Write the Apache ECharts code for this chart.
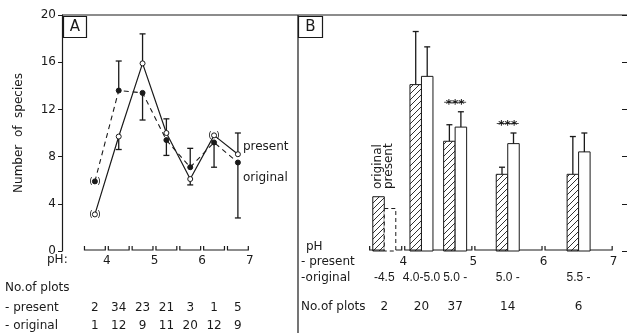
<!DOCTYPE html>
<html><head><meta charset="utf-8">
<script src="https://cdn.jsdelivr.net/npm/echarts@6/dist/echarts.min.js"></script>
<style>html,body{margin:0;padding:0;background:#fff}#c{width:627px;height:333px}</style>
</head><body><div id="c"></div>
<script>
// ---------- Panel A data ----------
const phA = [3.75, 4.25, 4.75, 5.25, 5.75, 6.25, 6.75];
const presentA = [3.1, 9.7, 15.9, 10.0, 6.1, 9.8, 8.2];
const presentErrA = [null, 8.6, 18.4, 11.2, 5.6, null, 10.0];
const originalA = [5.9, 13.6, 13.4, 9.4, 7.1, 9.2, 7.5];
const originalErrA = [null, 16.1, 11.1, 8.1, 8.7, 7.1, 2.8];
const presentUncertainA = [true, false, false, false, false, true, false];
const originalUncertainA = [true, false, false, false, false, false, false];
const plotsPresentA = [2, 34, 23, 21, 3, 1, 5];
const plotsOriginalA = [1, 12, 9, 11, 20, 12, 9];
const rangesA = [[3.5,4],[4,4.5],[4.5,5],[5,5.5],[5.5,6],[6,6.5],[6.5,7]];
const phTicks = [4, 5, 6, 7];
// ---------- Panel B data ----------
const phB = [3.73, 4.26, 4.74, 5.49, 6.50];
const originalB = [4.6, 14.1, 9.3, 6.5, 6.5];
const originalErrB = [null, 18.6, 10.7, 7.1, 9.7];
const presentB = [3.6, 14.8, 10.5, 9.1, 8.4];
const presentErrB = [null, 17.3, 11.8, 10.0, 10.0];
const sigB = ['', '', '***', '***', ''];
const rangeLabelsB = ['-4.5', '4.0-5.0', '5.0 -', '5.0 -', '5.5 -'];
const plotsB = [2, 20, 37, 14, 6];
const rangesB = [[3.5,4],[4,5],[5,6],[6,7]];

const FONT = 'DejaVu Sans';
const NARROW = 'Liberation Sans';
const INK = '#1a1a1a';

function hatchCanvas(){
  const c = document.createElement('canvas'); c.width = 6; c.height = 6;
  const g = c.getContext('2d'); g.strokeStyle = INK; g.lineWidth = 0.9;
  g.beginPath(); g.moveTo(0,6); g.lineTo(6,0);
  g.moveTo(-1,1); g.lineTo(1,-1); g.moveTo(5,7); g.lineTo(7,5); g.stroke();
  return c;
}
const HATCH = hatchCanvas();

const nz = v => (v === null ? NaN : v);

function errRender(params, api){
  const x = api.value(0), y = api.value(1), e = api.value(2);
  if (isNaN(e)) return;
  const p0 = api.coord([x, y]), p1 = api.coord([x, e]);
  return {type:'group', children:[
    {type:'line', shape:{x1:p0[0], y1:p0[1], x2:p1[0], y2:p1[1]}, style:{stroke:INK, lineWidth:1.3}},
    {type:'line', shape:{x1:p1[0]-3, y1:p1[1], x2:p1[0]+3, y2:p1[1]}, style:{stroke:INK, lineWidth:1.3}}
  ]};
}
function bracketRender(params, api){
  const a = api.coord([api.value(0), 0]), b = api.coord([api.value(1), 0]);
  const y = a[1] - 1;
  return {type:'polyline', shape:{points:[[a[0]+1.5, y-4],[a[0]+1.5, y],[b[0]-1.5, y],[b[0]-1.5, y-4]]},
    style:{stroke:INK, lineWidth:1.2, fill:null}};
}
function barRender(params, api){
  const x = api.value(0);
  const o = api.value(1), p = api.value(2), oe = api.value(3), pe = api.value(4);
  const i = params.dataIndex;
  const w = 11.5;
  const b = api.coord([x, 0]);
  const cx = b[0];
  const pO = api.coord([x, o]), pP = api.coord([x, p]);
  const ch = [];
  ch.push({type:'rect', shape:{x:cx-w, y:pO[1], width:w, height:b[1]-pO[1]},
    style:{fill:{image:HATCH, repeat:'repeat'}, stroke:INK, lineWidth:1}});
  ch.push({type:'rect', shape:{x:cx, y:pP[1], width:w, height:b[1]-pP[1]},
    style:{fill:'#fff', stroke:INK, lineWidth:1, lineDash: i === 0 ? [4,3] : null}});
  let top = Math.min(pO[1], pP[1]);
  [[cx-w/2, o, oe],[cx+w/2, p, pe]].forEach(([ex, v, e]) => {
    if (isNaN(e)) return;
    const q0 = api.coord([x, v])[1], q1 = api.coord([x, e])[1];
    top = Math.min(top, q1);
    ch.push({type:'line', shape:{x1:ex, y1:q0, x2:ex, y2:q1}, style:{stroke:INK, lineWidth:1.3}});
    ch.push({type:'line', shape:{x1:ex-3, y1:q1, x2:ex+3, y2:q1}, style:{stroke:INK, lineWidth:1.3}});
  });
  if (sigB[i]) {
    ch.push({type:'text', x:cx, y:top-7, style:{text:sigB[i], fill:INK, font:'bold 12px '+FONT, align:'center', verticalAlign:'middle'}});
    ch.push({type:'line', shape:{x1:cx-11, y1:top-9.5, x2:cx+11, y2:top-9.5}, style:{stroke:INK, lineWidth:0.8}});
  }
  return {type:'group', children:ch};
}

const paren = {show:true, formatter:'(\u2002)', position:'inside', color:INK, fontSize:9, fontFamily:FONT};

const option = {
  animation:false,
  backgroundColor:'#fff',
  grid:[
    {left:62, top:15, width:235, height:236},
    {left:298, top:15, width:329, height:236}
  ],
  xAxis:[
    {gridIndex:0, type:'value', min:3.06, max:7.99, splitLine:{show:false}, axisLine:{show:false}, axisTick:{show:false},
     axisLabel:{customValues:phTicks, color:INK, fontSize:12, fontFamily:FONT, margin:4}},
    {gridIndex:1, type:'value', min:2.5, max:7.19, splitLine:{show:false}, axisLine:{show:false}, axisTick:{show:false},
     axisLabel:{customValues:phTicks, color:INK, fontSize:12, fontFamily:FONT, margin:5}}
  ],
  yAxis:[
    {gridIndex:0, type:'value', min:0, max:20, interval:4, splitLine:{show:false},
     axisLine:{show:true, lineStyle:{color:INK, width:1.2}}, axisTick:{show:true, length:4, lineStyle:{color:INK}},
     axisLabel:{color:INK, fontSize:12, fontFamily:FONT, margin:6},
     name:'Number  of  species', nameLocation:'middle', nameGap:37, nameRotate:90,
     nameTextStyle:{color:INK, fontSize:12, fontFamily:FONT}},
    {gridIndex:1, type:'value', position:'right', min:0, max:20, interval:4, splitLine:{show:false},
     axisLine:{show:false}, axisTick:{show:true, inside:true, length:5, lineStyle:{color:INK}}, axisLabel:{show:false}}
  ],
  series:[
    {type:'custom', xAxisIndex:0, yAxisIndex:0, renderItem:bracketRender, data:rangesA, z:1, silent:true},
    {type:'custom', xAxisIndex:1, yAxisIndex:1, renderItem:bracketRender, data:rangesB, z:1, silent:true},
    {type:'custom', xAxisIndex:0, yAxisIndex:0, renderItem:errRender, z:2,
     data:phA.map((x,i)=>[x, presentA[i], nz(presentErrA[i])])},
    {type:'custom', xAxisIndex:0, yAxisIndex:0, renderItem:errRender, z:2,
     data:phA.map((x,i)=>[x, originalA[i], nz(originalErrA[i])])},
    {name:'original', type:'line', xAxisIndex:0, yAxisIndex:0, z:4, symbol:'circle', symbolSize:5,
     lineStyle:{color:INK, width:1.1, type:[5,4]}, itemStyle:{color:INK, borderColor:INK, borderWidth:1},
     data:phA.map((x,i)=> originalUncertainA[i] ? {value:[x, originalA[i]], label:paren} : [x, originalA[i]])},
    {name:'present', type:'line', xAxisIndex:0, yAxisIndex:0, z:5, symbol:'circle', symbolSize:5,
     lineStyle:{color:INK, width:1.2}, itemStyle:{color:'#fff', borderColor:INK, borderWidth:1},
     data:phA.map((x,i)=> presentUncertainA[i] ? {value:[x, presentA[i]], label:paren} : [x, presentA[i]])},
    {type:'custom', xAxisIndex:1, yAxisIndex:1, renderItem:barRender, z:3,
     encode:{x:0, y:[1,2,3,4]},
     data:phB.map((x,i)=>[x, originalB[i], presentB[i], nz(originalErrB[i]), nz(presentErrB[i])])}
  ]
};
const chart = echarts.init(document.getElementById('c'));
chart.setOption(option);

// ---------- annotations / tables ----------
const txt = (x, y, s, align, size, fam) => ({type:'text', x:x, y:y, silent:true,
  style:{text:s, fill:INK, font:(size||12)+'px '+(fam||FONT), align:align||'left', verticalAlign:'middle'}});
const pxA = v => chart.convertToPixel({xAxisIndex:0}, v);
const pxB = v => chart.convertToPixel({xAxisIndex:1}, v);
const yA = v => chart.convertToPixel({yAxisIndex:0}, v);
const g = [];
g.push({type:'line', shape:{x1:62, y1:15, x2:627, y2:15}, style:{stroke:INK, lineWidth:1.2}, silent:true});
g.push({type:'line', shape:{x1:298, y1:15, x2:298, y2:333}, style:{stroke:INK, lineWidth:1.2}, silent:true});
g.push({type:'rect', shape:{x:63.5, y:16.5, width:23, height:21}, style:{fill:'#fff', stroke:INK, lineWidth:1.2}, silent:true});
g.push(txt(75, 27.5, 'A', 'center', 15));
g.push({type:'rect', shape:{x:298.5, y:16.5, width:24, height:21}, style:{fill:'#fff', stroke:INK, lineWidth:1.2}, silent:true});
g.push(txt(310.5, 27.5, 'B', 'center', 15));
g.push(txt(pxA(phA[6]) + 5, yA(presentA[6]) - 7, 'present', 'left'));
g.push(txt(pxA(phA[6]) + 5, yA(originalA[6]) + 15, 'original', 'left'));
// panel A table
g.push(txt(47, 260, 'pH:', 'left'));
g.push(txt(5, 288, 'No.of plots', 'left'));
g.push(txt(5, 308, '- present', 'left'));
g.push(txt(5, 326, '- original', 'left'));
phA.forEach((x,i)=>{
  g.push(txt(pxA(x), 308, String(plotsPresentA[i]), 'center'));
  g.push(txt(pxA(x), 326, String(plotsOriginalA[i]), 'center'));
});
// panel B table
g.push(txt(306, 247, 'pH', 'left'));
g.push(txt(301, 262, '- present', 'left'));
g.push(txt(301, 278, '-original', 'left'));
g.push(txt(301, 307, 'No.of plots', 'left'));
phB.forEach((x,i)=>{
  g.push(txt(pxB(x), 278, rangeLabelsB[i], 'center', 12, NARROW));
  g.push(txt(pxB(x), 307, String(plotsB[i]), 'center'));
});
// rotated legend words above the first group
const b0 = pxB(phB[0]);
g.push({type:'text', x:b0-6, y:189, rotation:Math.PI/2, silent:true,
  style:{text:'original', fill:INK, font:'12px '+FONT, align:'left', verticalAlign:'middle'}});
g.push({type:'text', x:b0+5, y:189, rotation:Math.PI/2, silent:true,
  style:{text:'present', fill:INK, font:'12px '+FONT, align:'left', verticalAlign:'middle'}});
chart.setOption({graphic:g});
</script>
</body></html>
